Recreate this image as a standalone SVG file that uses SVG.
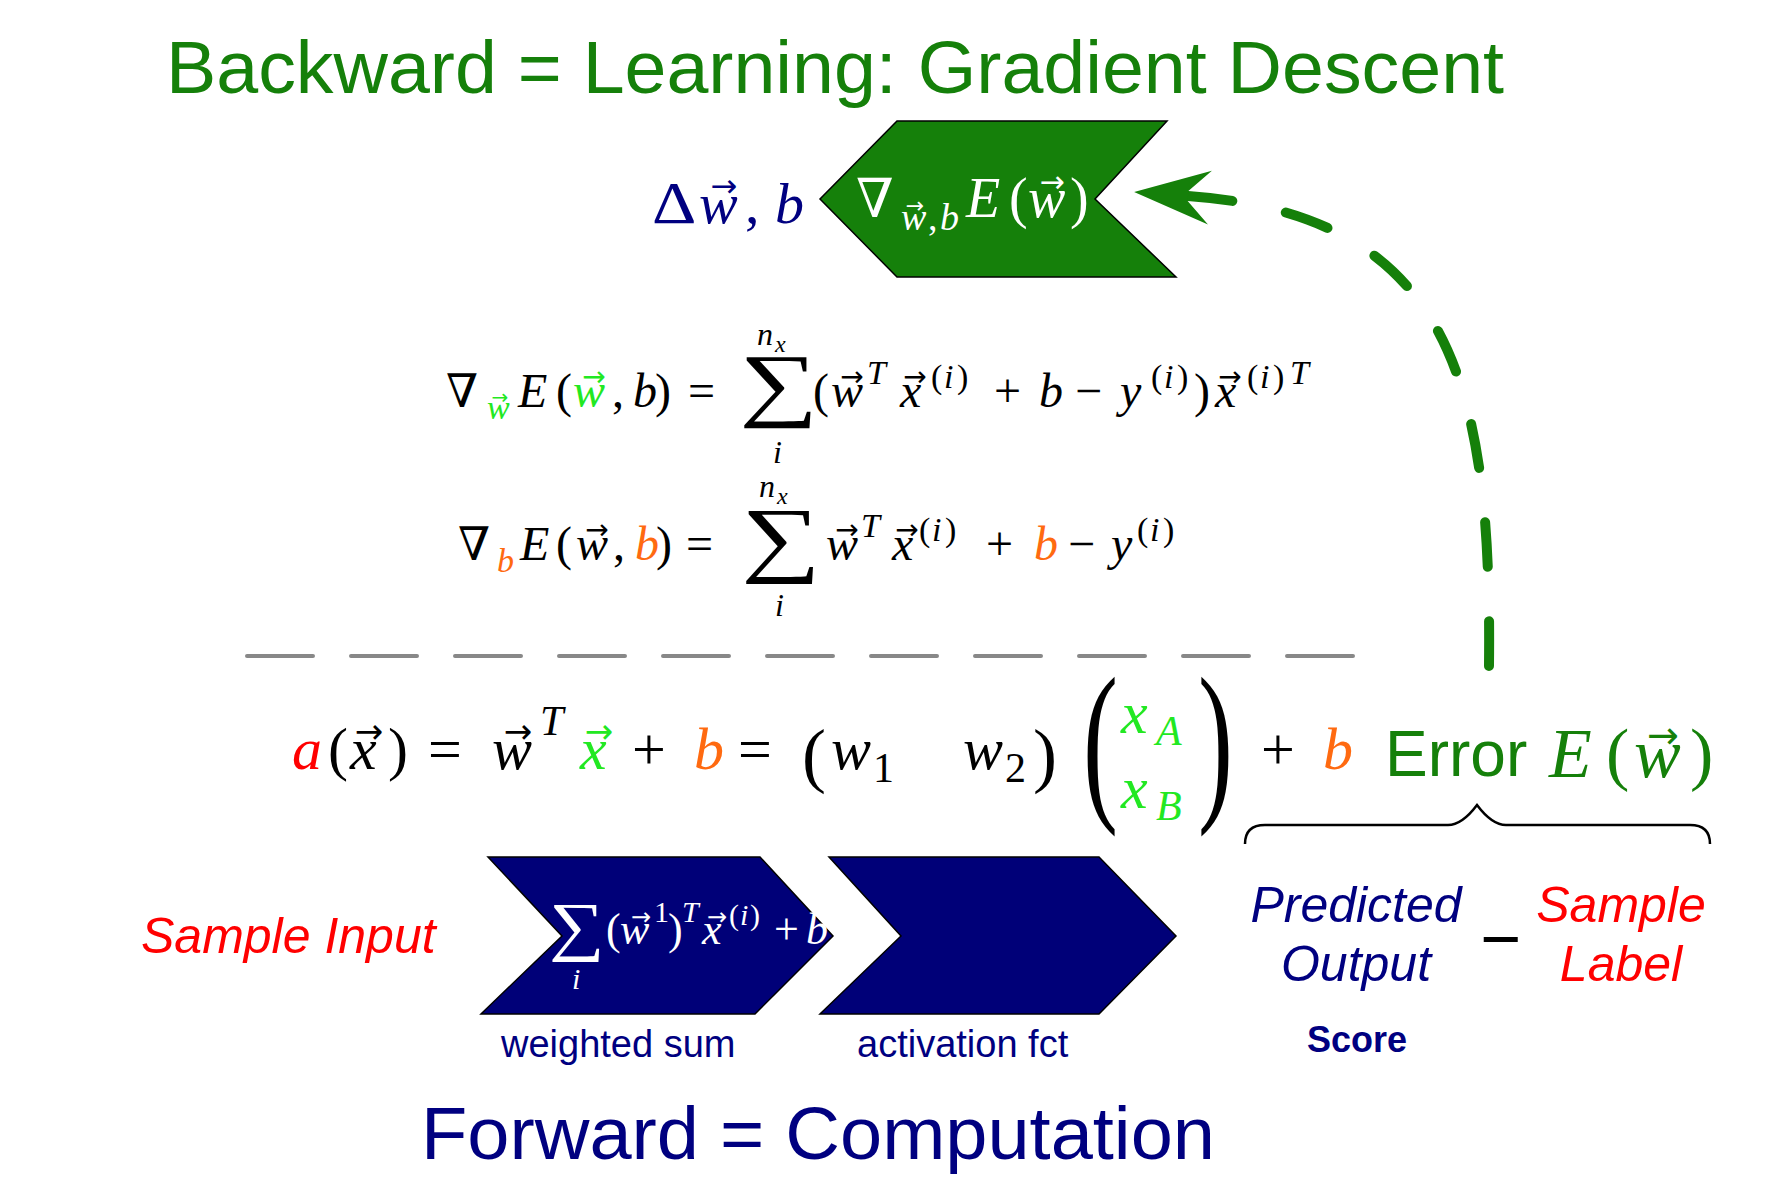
<svg xmlns="http://www.w3.org/2000/svg" width="1773" height="1183" viewBox="0 0 1773 1183">
<defs>
<style>
.sans{font-family:"Liberation Sans",Arial,sans-serif}
.m{font-family:"Liberation Serif","Times New Roman",serif;font-style:italic}
.u{font-family:"Liberation Serif","Times New Roman",serif;font-style:normal}
.sym{font-family:"DejaVu Serif",serif;font-style:normal}
.v{font-family:"DejaVu Sans",sans-serif;font-style:normal;text-anchor:middle}
.k{fill:#000}
.wt{fill:#fff}
.g{fill:#22e822}
.o{fill:#ff6a10}
.red{fill:#ff0000}
.navy{fill:#000080}
.dg{fill:#15800a}
.chev-g{fill:#15800a;stroke:#000;stroke-width:1.5}
.chev-b{fill:#000078;stroke:#000;stroke-width:1.5}
.mid{text-anchor:middle}
</style>
<marker id="ah" markerUnits="userSpaceOnUse" viewBox="-25 -30 85 60" refX="0" refY="0" markerWidth="85" markerHeight="60" orient="auto">
<path d="M54,0 L-22,-27 L0,-5 L0,5 L-22,27 Z" fill="#15800a"/>
</marker>
</defs>
<rect width="1773" height="1183" fill="#fff"/>

<g id="title-backward">
<text class="sans dg" x="166" y="93" font-size="75" textLength="1338" lengthAdjust="spacingAndGlyphs">Backward = Learning: Gradient Descent</text>
</g>

<g id="label-delta" class="navy">
<text class="u" font-size="60" transform="translate(652,223) scale(1.15,1)">Δ</text>
<text class="m" y="223" font-size="58"><tspan x="699">w</tspan><tspan class="u" x="745">,</tspan><tspan x="775">b</tspan></text>
<text class="v" x="724" y="197" font-size="32">→</text>
</g>

<g id="node-gradient">
<path class="chev-g" d="M897,121 L1167,121 L1095,199 L1176,277 L897,277 L820,199 Z"/>
<g class="wt">
<text class="sym" x="856" y="217" font-size="54">∇</text>
<text class="m" y="230" font-size="38"><tspan x="901">w</tspan><tspan class="u" x="928">,</tspan><tspan x="940">b</tspan></text>
<text class="v" x="915" y="213" font-size="22">→</text>
<text class="m" y="217" font-size="56"><tspan x="966">E</tspan><tspan class="u" x="1009">(</tspan><tspan x="1028">w</tspan><tspan class="u" x="1070">)</tspan></text>
<text class="v" x="1052" y="192" font-size="30">→</text>
</g>
</g>

<g id="eq-grad-w">
<text class="sym" x="446" y="407" font-size="46">∇</text>
<text class="m g" x="487" y="419" font-size="34">w</text>
<text class="v g" x="500" y="404" font-size="20">→</text>
<text class="m" y="407" font-size="48"><tspan x="518">E</tspan><tspan class="u" x="556">(</tspan><tspan class="g" x="573">w</tspan><tspan class="u" x="612">,</tspan><tspan x="633">b</tspan><tspan class="u" x="655">)</tspan><tspan class="u" x="688">=</tspan><tspan class="u" x="813">(</tspan><tspan x="831">w</tspan><tspan x="900">x</tspan><tspan class="u" x="994">+</tspan><tspan x="1039">b</tspan><tspan class="u" x="1075">−</tspan><tspan x="1120">y</tspan><tspan class="u" x="1194">)</tspan><tspan x="1215">x</tspan></text>
<text class="v g" x="594" y="386" font-size="28">→</text>
<text class="v" x="852" y="386" font-size="28">→</text>
<text class="v" x="915" y="386" font-size="28">→</text>
<text class="v" x="1230" y="386" font-size="28">→</text>
<text class="m" font-size="34"><tspan x="867" y="384">T</tspan><tspan class="u" x="931" y="388">(</tspan><tspan x="944">i</tspan><tspan class="u" x="957">)</tspan><tspan class="u" x="1151">(</tspan><tspan x="1164">i</tspan><tspan class="u" x="1177">)</tspan><tspan class="u" x="1247">(</tspan><tspan x="1260">i</tspan><tspan class="u" x="1273">)</tspan><tspan x="1290" y="384">T</tspan></text>
<text class="u" font-size="82" transform="translate(739,411) scale(1.35,1)">∑</text>
<text class="m" font-size="32"><tspan x="757" y="345">n</tspan><tspan x="775" y="352" font-size="24">x</tspan><tspan x="773" y="463">i</tspan></text>
</g>

<g id="eq-grad-b">
<text class="sym" x="458" y="560" font-size="46">∇</text>
<text class="m o" x="497" y="572" font-size="34">b</text>
<text class="m" y="560" font-size="48"><tspan x="520">E</tspan><tspan class="u" x="556">(</tspan><tspan x="576">w</tspan><tspan class="u" x="613">,</tspan><tspan class="o" x="635">b</tspan><tspan class="u" x="656">)</tspan><tspan class="u" x="686">=</tspan><tspan x="826">w</tspan><tspan x="892">x</tspan><tspan class="u" x="986">+</tspan><tspan class="o" x="1034">b</tspan><tspan class="u" x="1068">−</tspan><tspan x="1111">y</tspan></text>
<text class="v" x="597" y="539" font-size="28">→</text>
<text class="v" x="847" y="539" font-size="28">→</text>
<text class="v" x="907" y="539" font-size="28">→</text>
<text class="m" font-size="34"><tspan x="861" y="537">T</tspan><tspan class="u" x="919" y="541">(</tspan><tspan x="932">i</tspan><tspan class="u" x="945">)</tspan><tspan class="u" x="1137">(</tspan><tspan x="1150">i</tspan><tspan class="u" x="1163">)</tspan></text>
<text class="u" font-size="84" transform="translate(741,566) scale(1.33,1)">∑</text>
<text class="m" font-size="32"><tspan x="759" y="497">n</tspan><tspan x="777" y="504" font-size="24">x</tspan><tspan x="775" y="616">i</tspan></text>
</g>

<g id="separator">
<path d="M247,656 H1353" fill="none" stroke="#888" stroke-width="4" stroke-linecap="round" stroke-dasharray="66 38"/>
</g>

<g id="eq-activation">
<text class="m" y="769" font-size="60"><tspan class="red" x="292">a</tspan><tspan class="u" x="328">(</tspan><tspan x="350">x</tspan><tspan class="u" x="388">)</tspan><tspan class="u" x="428">=</tspan><tspan x="492">w</tspan><tspan class="g" x="580">x</tspan><tspan class="u" x="632">+</tspan><tspan class="o" x="694">b</tspan><tspan class="u" x="738">=</tspan><tspan x="831">w</tspan><tspan x="963">w</tspan><tspan class="u" x="1261">+</tspan><tspan class="o" x="1323">b</tspan></text>
<text class="v" x="369" y="743" font-size="34">→</text>
<text class="v" x="518" y="743" font-size="34">→</text>
<text class="v g" x="599" y="743" font-size="34">→</text>
<text class="m" x="540" y="735" font-size="42">T</text>
<text class="u" font-size="42" y="782"><tspan x="873">1</tspan><tspan x="1005">2</tspan></text>
<text class="u" x="802" y="779" font-size="72">(</text>
<text class="u" x="1033" y="779" font-size="72">)</text>
<text class="u" font-size="175" transform="translate(1083,799) scale(0.6,1)">(</text>
<text class="u" font-size="175" transform="translate(1198,799) scale(0.6,1)">)</text>
<text class="m g" font-size="60"><tspan x="1121" y="733">x</tspan><tspan x="1156" y="745" font-size="42">A</tspan><tspan x="1121" y="808">x</tspan><tspan x="1156" y="820" font-size="42">B</tspan></text>
</g>

<g id="error-label">
<text class="sans dg" x="1385" y="776" font-size="64">Error</text>
<text class="m dg" y="777" font-size="70"><tspan x="1549">E</tspan><tspan class="u" x="1606">(</tspan><tspan x="1634">w</tspan><tspan class="u" x="1690">)</tspan></text>
<text class="v dg" x="1663" y="748" font-size="38">→</text>
</g>

<g id="brace">
<path d="M1245,844 Q1245,825 1265,825 L1448,825 Q1462,825 1477,805 Q1492,825 1506,825 L1690,825 Q1710,825 1710,844" fill="none" stroke="#000" stroke-width="2.5"/>
</g>

<g id="node-weighted-sum">
<path class="chev-b" d="M488,857 L760,857 L833,936 L755,1014 L481,1014 L562,936 Z"/>
<g class="wt">
<text class="u" font-size="66" transform="translate(549,948) scale(1.18,1)">∑</text>
<text class="m" x="572" y="989" font-size="30">i</text>
<text class="m" y="944" font-size="44"><tspan class="u" x="606">(</tspan><tspan x="620">w</tspan><tspan class="u" x="668">)</tspan><tspan x="702">x</tspan><tspan class="u" x="774">+</tspan><tspan x="806">b</tspan></text>
<text class="v" x="641" y="925" font-size="24">→</text>
<text class="v" x="717" y="925" font-size="24">→</text>
<text font-size="30" y="922"><tspan class="u" x="654">1</tspan><tspan class="m" x="682">T</tspan><tspan class="u" x="729" y="925">(</tspan><tspan class="m" x="740">i</tspan><tspan class="u" x="750">)</tspan></text>
</g>
<text class="sans navy" x="501" y="1057" font-size="38">weighted sum</text>
</g>

<g id="node-activation">
<path class="chev-b" d="M829,857 L1099,857 L1176,936 L1099,1014 L820,1014 L901,936 Z"/>
<text class="sans navy" x="857" y="1057" font-size="38">activation fct</text>
</g>

<g id="label-sample-input">
<text class="sans red" x="141" y="953" font-size="50" font-style="italic">Sample Input</text>
</g>

<g id="label-error-terms">
<text class="sans navy mid" font-size="50" font-style="italic"><tspan x="1356" y="922">Predicted</tspan><tspan x="1356" y="981">Output</tspan></text>
<text class="sans k mid" x="1501" y="963" font-size="70">−</text>
<text class="sans red mid" font-size="50" font-style="italic"><tspan x="1621" y="922">Sample</tspan><tspan x="1621" y="981">Label</tspan></text>
<text class="sans navy mid" x="1357" y="1052" font-size="36" font-weight="bold">Score</text>
</g>

<g id="title-forward">
<text class="sans navy" x="421" y="1159" font-size="75" textLength="794" lengthAdjust="spacingAndGlyphs">Forward = Computation</text>
</g>

<g id="connectors">
<path d="M1489,666 C1492,380 1450,215 1188,196" fill="none" stroke="#15800a" stroke-width="10" stroke-linecap="round" pathLength="632" stroke-dasharray="44 54" marker-end="url(#ah)"/>
</g>
</svg>
